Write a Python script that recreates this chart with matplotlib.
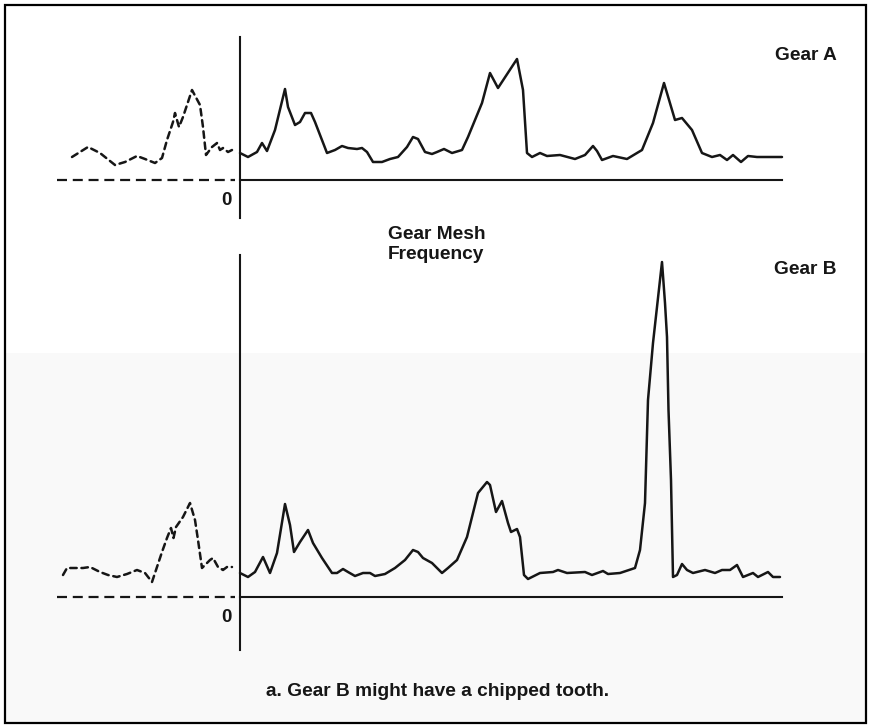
import matplotlib

matplotlib.use("Agg")
import matplotlib.pyplot as plt
from matplotlib.patches import Rectangle

W, H = 870, 727
INK = "#161616"

# spectra; frequency in arbitrary units (0 = axis),
# amplitude in arbitrary units above the baseline
freq_a_left = [-168, -152, -140, -125, -115, -103, -95, -85, -78, -73, -67, -65, -61, -57,
               -48, -40, -37, -34, -28, -23, -20, -17, -12, -8]
amp_a_left = [23, 33, 27, 15, 18, 24, 21, 17, 22, 40, 58, 67, 53, 63,
              90, 75, 53, 25, 33, 37, 30, 32, 28, 30]

freq_a = [0, 8, 17, 22, 27, 35, 45, 48, 55, 60, 65, 71, 75, 87, 95, 102, 108, 117, 122,
          127, 133, 142, 150, 158, 167, 173, 178, 185, 192, 197, 204, 212, 222, 228, 242,
          250, 258, 277, 283, 287, 292, 300, 307, 320, 335, 345, 353, 357, 362, 373, 387,
          402, 413, 424, 435, 442, 452, 462, 472, 480, 487, 493, 501, 508, 517, 542]
amp_a = [27, 23, 28, 37, 29, 50, 91, 73, 55, 58, 67, 67, 58, 27, 30, 34, 32, 31, 32,
         28, 18, 18, 21, 23, 33, 43, 41, 28, 26, 28, 31, 27, 30, 43, 77,
         107, 92, 121, 90, 27, 23, 27, 24, 25, 21, 25, 34, 29, 20, 24, 21,
         30, 57, 97, 60, 62, 50, 27, 23, 25, 20, 25, 18, 24, 23, 23]

freq_b_left = [-177, -173, -157, -150, -140, -132, -123, -113, -103, -95, -88, -83, -78,
               -73, -69, -66.5, -64, -57, -50, -45, -42, -38, -33, -30, -27, -22, -17, -13, -8]
amp_b_left = [22, 29, 29, 30, 25, 22, 20, 23, 27, 24, 15, 30, 45,
              59, 69, 59, 70, 80, 94, 77, 57, 29, 34, 37, 39, 30, 27, 30, 30]

freq_b = [0, 8, 15, 23, 30, 37, 45, 50, 54, 60, 68, 73, 82, 92, 97, 103, 108, 115, 123,
          130, 135, 145, 155, 165, 173, 178, 183, 192, 202, 208, 217, 227, 238, 247, 250,
          256, 262, 268, 271, 277, 280, 284, 288, 300, 313, 318, 327, 345, 352, 363, 368,
          380, 395, 400, 405, 408, 413, 417, 422, 425, 427, 428.5, 431, 433, 437, 442, 447,
          453, 465, 475, 482, 490, 497, 503, 513, 518, 528, 533, 540]
amp_b = [24, 20, 25, 40, 24, 44, 93, 72, 45, 55, 67, 54, 39, 24, 24, 28, 25, 21, 24,
         24, 21, 23, 29, 37, 47, 45, 39, 34, 24, 29, 37, 60, 104, 115, 112,
         85, 96, 74, 65, 68, 60, 22, 18, 24, 25, 27, 24, 25, 22, 26, 23,
         24, 29, 47, 94, 197, 254, 290, 335, 294, 260, 187, 117, 20, 22, 33, 27,
         24, 27, 24, 27, 27, 32, 20, 24, 20, 25, 20, 20]


def fig_box(x0, y0, x1, y1):
    # pixel box (top-left origin) -> figure fraction [left, bottom, width, height]
    return [x0 / W, 1 - y1 / H, (x1 - x0) / W, (y1 - y0) / H]


def panel(ax, fl, al, f, a, axis_top, axis_bottom, ymin, ymax):
    ax.set_xlim(-200, 560)
    ax.set_ylim(ymin, ymax)
    ax.patch.set_visible(False)
    for side in ("top", "right"):
        ax.spines[side].set_visible(False)
    ax.spines["left"].set_position(("data", 0))
    ax.spines["left"].set_bounds(axis_bottom, axis_top)
    ax.spines["bottom"].set_position(("data", 0))
    ax.spines["bottom"].set_bounds(0, 542)
    for s in ("left", "bottom"):
        ax.spines[s].set_linewidth(1.5)
        ax.spines[s].set_color(INK)
    ax.set_xticks([])
    ax.set_yticks([])
    ax.hlines(0, -183, -5, colors=INK, linewidth=1.6, linestyles=(0, (4.5, 2.6)))
    ax.plot(fl, al, color=INK, linewidth=1.8, linestyle=(0, (2.6, 1.9)),
            dash_capstyle="round", dash_joinstyle="round")
    ax.plot(f, a, color=INK, linewidth=1.8, solid_joinstyle="round",
            solid_capstyle="round")
    ax.text(-14, -12, "0", ha="center", va="top", fontsize=13.5, fontweight="bold",
            family="Liberation Sans", color=INK)


fig = plt.figure(figsize=(W / 100, H / 100), dpi=100)
fig.patch.set_facecolor("white")

# faint scan shading on the lower half and the frame
fig.add_artist(Rectangle((6 / W, 1 - 722 / H), 859 / W, 369 / H, transform=fig.transFigure,
                         facecolor="#f9f9f9", edgecolor="none", zorder=0))
fig.add_artist(Rectangle((5 / W, 1 - 723 / H), 861 / W, 718 / H, transform=fig.transFigure,
                         fill=False, edgecolor="black", linewidth=1.6, zorder=5))

ax_a = fig.add_axes(fig_box(40, 30, 800, 225))
panel(ax_a, freq_a_left, amp_a_left, freq_a, amp_a, 143, -38, -45, 150)

ax_b = fig.add_axes(fig_box(40, 245, 800, 655))
panel(ax_b, freq_b_left, amp_b_left, freq_b, amp_b, 342, -53, -58, 352)

font = dict(fontsize=13.8, fontweight="bold", family="Liberation Sans", color=INK)
fig.text(806 / W, 1 - 55 / H, "Gear A", ha="center", va="center", **font)
fig.text(805 / W, 1 - 270 / H, "Gear B", ha="center", va="center", **font)
fig.text(388 / W, 1 - 226 / H, "Gear Mesh\nFrequency", ha="left", va="top",
         linespacing=1.25, **font)
fig.text(438 / W, 1 - 692 / H, "a. Gear B might have a chipped tooth.", ha="center",
         va="center", **font)

fig.savefig("out.png", dpi=100)
